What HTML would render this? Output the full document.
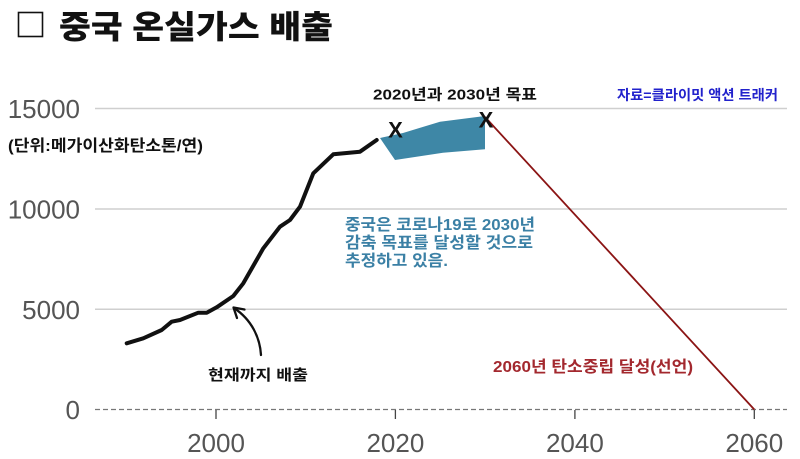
<!DOCTYPE html>
<html><head><meta charset="utf-8"><style>
html,body{margin:0;padding:0;background:#fff;}
svg{display:block;}
.k{font-family:"Liberation Sans","Noto Sans CJK KR",sans-serif;font-weight:bold;}
.t{font-family:"Liberation Sans",sans-serif;fill:#555;font-size:26px;}
</style></head><body>
<svg width="800" height="459" viewBox="0 0 800 459" xmlns="http://www.w3.org/2000/svg">
<rect width="800" height="459" fill="#fff"/>
<!-- title -->
<rect x="18.5" y="12.5" width="24" height="24" fill="none" stroke="#111" stroke-width="1.6"/>
<text x="59" y="38" font-family="Liberation Sans, Noto Sans CJK KR, sans-serif" font-weight="900" font-size="32" fill="#111" textLength="274" lengthAdjust="spacingAndGlyphs">중국 온실가스 배출</text>

<!-- gridlines -->
<g stroke="#cfcfcf" stroke-width="1.5">
<line x1="95" y1="108.5" x2="787" y2="108.5"/>
<line x1="95" y1="209" x2="787" y2="209"/>
<line x1="95" y1="309.3" x2="787" y2="309.3"/>
</g>
<line x1="95" y1="409.5" x2="787" y2="409.5" stroke="#777" stroke-width="1.3" stroke-dasharray="5,3"/>
<g stroke="#444" stroke-width="1.3">
<line x1="216" y1="410" x2="216" y2="419"/>
<line x1="395.4" y1="410" x2="395.4" y2="419"/>
<line x1="574.9" y1="410" x2="574.9" y2="419"/>
<line x1="754.3" y1="410" x2="754.3" y2="419"/>
</g>

<!-- y tick labels -->
<text class="t" x="80" y="118" text-anchor="end">15000</text>
<text class="t" x="80" y="218.5" text-anchor="end">10000</text>
<text class="t" x="80" y="319" text-anchor="end">5000</text>
<text class="t" x="80" y="419" text-anchor="end">0</text>
<!-- x tick labels -->
<text class="t" x="216" y="452" text-anchor="middle">2000</text>
<text class="t" x="395.4" y="452" text-anchor="middle">2020</text>
<text class="t" x="574.9" y="452" text-anchor="middle">2040</text>
<text class="t" x="754.3" y="452" text-anchor="middle">2060</text>

<!-- unit -->
<text class="k" x="8" y="151" font-size="16" fill="#111" textLength="195" lengthAdjust="spacingAndGlyphs">(단위:메가이산화탄소톤/연)</text>

<!-- target polygon -->
<polygon points="380,138 403,133 440,121.7 485,116 485,149.3 443,152.7 395,160" fill="#3e87a6"/>

<!-- red line -->
<line x1="485" y1="117" x2="754.3" y2="409.5" stroke="#8b1414" stroke-width="1.8"/>

<!-- historical curve -->
<polyline points="126.7,343.3 143.3,338.3 161.7,330 171.7,321.7 180,320 198.3,312.7 206.7,312.7 216.7,307.3 233.3,296 243.3,283.3 263.3,248.3 280,226.7 290,220 300,206.7 313.3,173.3 333.3,154.3 360,151.7 376.7,140" fill="none" stroke="#111" stroke-width="4" stroke-linejoin="round" stroke-linecap="round"/>

<!-- X markers -->
<text x="395.5" y="137.5" font-family="Liberation Sans, sans-serif" font-weight="bold" font-size="22" fill="#111" text-anchor="middle">X</text>
<text x="486" y="127.5" font-family="Liberation Sans, sans-serif" font-weight="bold" font-size="22" fill="#111" text-anchor="middle">X</text>

<!-- labels -->
<text class="k" x="373" y="99.5" font-size="15" fill="#111" textLength="164" lengthAdjust="spacingAndGlyphs">2020년과 2030년 목표</text>
<text class="k" x="617" y="100" font-size="14" fill="#2222cc" textLength="161" lengthAdjust="spacingAndGlyphs">자료=클라이밋 액션 트래커</text>

<text class="k" x="345" y="230" font-size="16" fill="#3b80a5" textLength="190" lengthAdjust="spacingAndGlyphs">중국은 코로나19로 2030년</text>
<text class="k" x="345" y="248" font-size="16" fill="#3b80a5" textLength="188" lengthAdjust="spacingAndGlyphs">감축 목표를 달성할 것으로</text>
<text class="k" x="345" y="266" font-size="16" fill="#3b80a5" textLength="103" lengthAdjust="spacingAndGlyphs">추정하고 있음.</text>

<text class="k" x="208" y="380" font-size="15" fill="#111" textLength="100" lengthAdjust="spacingAndGlyphs">현재까지 배출</text>
<text class="k" x="493" y="372" font-size="16" fill="#a3282e" textLength="200" lengthAdjust="spacingAndGlyphs">2060년 탄소중립 달성(선언)</text>

<!-- arrow -->
<path d="M261,355 C260,338 252,320 234,308" fill="none" stroke="#111" stroke-width="2.3" stroke-linecap="round"/>
<path d="M237,318 L233.5,307.5 L244.5,309.5" fill="none" stroke="#111" stroke-width="2.3" stroke-linecap="round" stroke-linejoin="round"/>
</svg>
</body></html>
